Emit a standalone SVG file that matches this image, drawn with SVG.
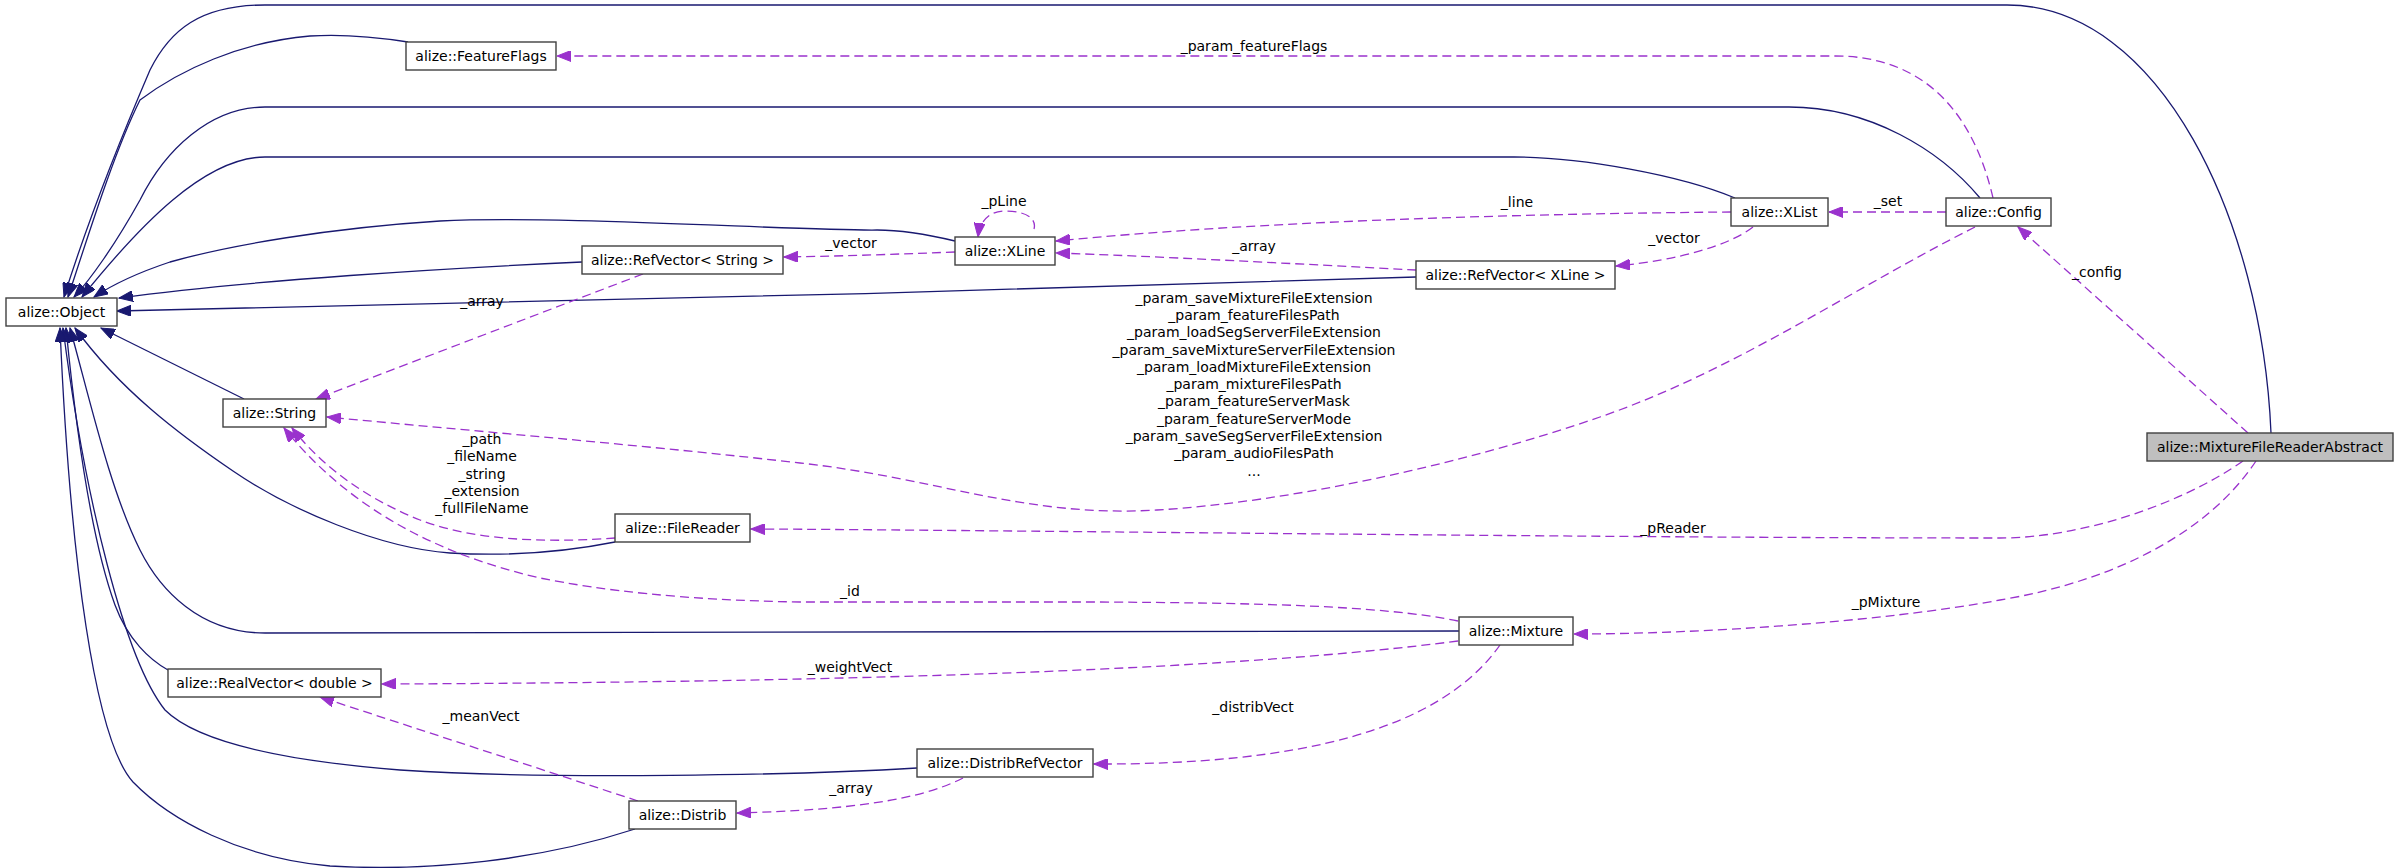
<svg xmlns="http://www.w3.org/2000/svg" width="2403" height="868" viewBox="0 0 2403 868">
<style>
.n rect{fill:#fff;stroke:#404040;stroke-width:1.4}
.n text,.lb{font-family:"DejaVu Sans","Liberation Sans",sans-serif;font-size:14px;fill:#000;text-anchor:middle}
.inh{fill:none;stroke:#191970;stroke-width:1.3}
.use{fill:none;stroke:#9a32cd;stroke-width:1.3;stroke-dasharray:9,5}
</style>
<defs>
<marker id="an" markerUnits="userSpaceOnUse" markerWidth="15" markerHeight="11" refX="14" refY="5.5" orient="auto"><path d="M0,0 L14,5.5 L0,11 z" fill="#191970" stroke="#191970"/></marker>
<marker id="ap" markerUnits="userSpaceOnUse" markerWidth="15" markerHeight="11" refX="14" refY="5.5" orient="auto"><path d="M0,0 L14,5.5 L0,11 z" fill="#9a32cd" stroke="#9a32cd"/></marker>
</defs>
<rect width="2403" height="868" fill="#fff"/>
<g id="connectors">
<path class="inh" marker-end="url(#an)" d="M2271,433 C2262,220 2160,5 2007,5 L265,5 C200,5 170,30 150,70 C120,140 85,230 64,297"/>
<path class="inh" marker-end="url(#an)" d="M408,42 C370,36 340,34 310,36 C240,42 180,70 140,100 C115,150 90,230 68,297"/>
<path class="inh" marker-end="url(#an)" d="M1980,198 C1940,150 1870,107 1789,107 L265,107 C210,107 165,150 140,200 C115,245 90,280 74,297"/>
<path class="inh" marker-end="url(#an)" d="M1735,198 C1680,175 1580,157 1514,157 L265,157 C205,157 140,225 82,297"/>
<path class="inh" marker-end="url(#an)" d="M955,241 C930,235 905,230 877,230 C800,231 560,215 440,221 C330,228 230,245 170,262 C140,272 115,283 94,297"/>
<path class="inh" marker-end="url(#an)" d="M582,262 C450,268 250,280 119,298"/>
<path class="inh" marker-end="url(#an)" d="M1416,277 C1000,290 500,305 117,311"/>
<path class="inh" marker-end="url(#an)" d="M244,399 L101,328"/>
<path class="inh" marker-end="url(#an)" d="M615,542 C560,553 500,556 450,553 C380,548 290,510 233,471 C180,435 120,390 75,328"/>
<path class="inh" marker-end="url(#an)" d="M1459,631 L265,633 C200,633 160,590 140,550 C110,490 90,400 70,328"/>
<path class="inh" marker-end="url(#an)" d="M168,670 C150,660 128,640 115,605 C95,550 78,450 66,328"/>
<path class="inh" marker-end="url(#an)" d="M917,768 C800,775 550,780 400,770 C300,762 200,745 165,710 C125,660 85,500 63,328"/>
<path class="inh" marker-end="url(#an)" d="M635,829 C540,860 430,872 330,866 C240,858 170,820 133,782 C95,740 70,560 60,328"/>
<path class="use" marker-end="url(#ap)" d="M1993,198 C1975,120 1930,56 1835,56 L557,56"/>
<path class="use" marker-end="url(#ap)" d="M1946,212 L1829,212"/>
<path class="use" marker-end="url(#ap)" d="M1731,212 C1500,214 1250,222 1056,241"/>
<path class="use" marker-end="url(#ap)" d="M1753,227 C1730,245 1680,260 1616,266"/>
<path class="use" marker-end="url(#ap)" d="M1416,270 C1300,264 1150,256 1056,253"/>
<path class="use" marker-end="url(#ap)" d="M955,252 C900,254 850,256 784,257"/>
<path class="use" marker-end="url(#ap)" d="M1034,229 C1037,218 1025,211 1005,211 C990,211 980,220 978,237"/>
<path class="use" marker-end="url(#ap)" d="M643,274 L316,399"/>
<path class="use" marker-end="url(#ap)" d="M1975,227 C1850,290 1736,370 1600,417 C1464,464 1290,502 1157,510 C1024,518 938,478 800,463 C662,447 485,432 327,417"/>
<path class="use" marker-end="url(#ap)" d="M615,538 C560,542 480,543 420,520 C370,500 325,470 292,428"/>
<path class="use" marker-end="url(#ap)" d="M1458,621 C1380,605 1250,603 1100,602 L800,602 C680,600 600,590 540,578 C440,555 350,510 284,428"/>
<path class="use" marker-end="url(#ap)" d="M1458,641 C1250,668 900,682 382,684"/>
<path class="use" marker-end="url(#ap)" d="M638,801 L320,697"/>
<path class="use" marker-end="url(#ap)" d="M1500,645 C1440,730 1300,765 1094,764"/>
<path class="use" marker-end="url(#ap)" d="M963,778 C920,800 850,810 737,813"/>
<path class="use" marker-end="url(#ap)" d="M2248,433 L2018,227"/>
<path class="use" marker-end="url(#ap)" d="M2243,461 C2180,505 2080,538 2000,538 C1600,538 1000,530 751,529"/>
<path class="use" marker-end="url(#ap)" d="M2256,461 C2210,530 2120,580 2000,600 C1880,622 1700,634 1574,634"/>
</g>
<g id="labels">
<text class="lb" x="1254" y="51">_param_featureFlags</text>
<text class="lb" x="1888" y="206">_set</text>
<text class="lb" x="1517" y="207">_line</text>
<text class="lb" x="1674" y="243">_vector</text>
<text class="lb" x="1254" y="251">_array</text>
<text class="lb" x="851" y="248">_vector</text>
<text class="lb" x="1004" y="206">_pLine</text>
<text class="lb" x="482" y="306">_array</text>
<text class="lb" x="1254" y="303">_param_saveMixtureFileExtension</text>
<text class="lb" x="1254" y="320">_param_featureFilesPath</text>
<text class="lb" x="1254" y="337">_param_loadSegServerFileExtension</text>
<text class="lb" x="1254" y="355">_param_saveMixtureServerFileExtension</text>
<text class="lb" x="1254" y="372">_param_loadMixtureFileExtension</text>
<text class="lb" x="1254" y="389">_param_mixtureFilesPath</text>
<text class="lb" x="1254" y="406">_param_featureServerMask</text>
<text class="lb" x="1254" y="424">_param_featureServerMode</text>
<text class="lb" x="1254" y="441">_param_saveSegServerFileExtension</text>
<text class="lb" x="1254" y="458">_param_audioFilesPath</text>
<text class="lb" x="1254" y="476">...</text>
<text class="lb" x="482" y="444">_path</text>
<text class="lb" x="482" y="461">_fileName</text>
<text class="lb" x="482" y="479">_string</text>
<text class="lb" x="482" y="496">_extension</text>
<text class="lb" x="482" y="513">_fullFileName</text>
<text class="lb" x="850" y="596">_id</text>
<text class="lb" x="850" y="672">_weightVect</text>
<text class="lb" x="481" y="721">_meanVect</text>
<text class="lb" x="1253" y="712">_distribVect</text>
<text class="lb" x="851" y="793">_array</text>
<text class="lb" x="2097" y="277">_config</text>
<text class="lb" x="1673" y="533">_pReader</text>
<text class="lb" x="1886" y="607">_pMixture</text>
</g>
<g id="node-Object" class="n"><rect x="6" y="298" width="111" height="28"/><text x="61.5" y="317">alize::Object</text></g>
<g id="node-FeatureFlags" class="n"><rect x="406" y="42" width="150" height="28"/><text x="481" y="61">alize::FeatureFlags</text></g>
<g id="node-RefVectorString" class="n"><rect x="582" y="246" width="201" height="28"/><text x="682.5" y="265">alize::RefVector&lt; String &gt;</text></g>
<g id="node-String" class="n"><rect x="223" y="399" width="103" height="28"/><text x="274.5" y="418">alize::String</text></g>
<g id="node-XLine" class="n"><rect x="955" y="237" width="100" height="28"/><text x="1005" y="256">alize::XLine</text></g>
<g id="node-RefVectorXLine" class="n"><rect x="1416" y="261" width="199" height="28"/><text x="1515.5" y="280">alize::RefVector&lt; XLine &gt;</text></g>
<g id="node-XList" class="n"><rect x="1731" y="198" width="97" height="28"/><text x="1779.5" y="217">alize::XList</text></g>
<g id="node-Config" class="n"><rect x="1946" y="198" width="105" height="28"/><text x="1998.5" y="217">alize::Config</text></g>
<g id="node-MixtureFileReaderAbstract" class="n"><rect x="2147" y="433" width="246" height="28" style="fill:#bfbfbf"/><text x="2270" y="452">alize::MixtureFileReaderAbstract</text></g>
<g id="node-FileReader" class="n"><rect x="615" y="514" width="135" height="28"/><text x="682.5" y="533">alize::FileReader</text></g>
<g id="node-RealVectorDouble" class="n"><rect x="168" y="669" width="213" height="28"/><text x="274.5" y="688">alize::RealVector&lt; double &gt;</text></g>
<g id="node-Distrib" class="n"><rect x="629" y="801" width="107" height="28"/><text x="682.5" y="820">alize::Distrib</text></g>
<g id="node-Mixture" class="n"><rect x="1459" y="617" width="114" height="28"/><text x="1516" y="636">alize::Mixture</text></g>
<g id="node-DistribRefVector" class="n"><rect x="917" y="749" width="176" height="28"/><text x="1005" y="768">alize::DistribRefVector</text></g>
</svg>
